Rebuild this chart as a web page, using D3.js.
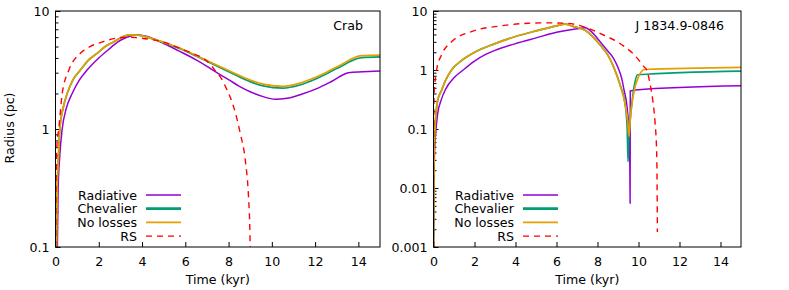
<!DOCTYPE html>
<html>
<head>
<script src="https://d3js.org/d3.v7.min.js"></script>
<style>
  body { margin: 0; background: #fff; }
  svg text { font-family: "DejaVu Sans", sans-serif; font-size: 12.6px; fill: #000; }
</style>
</head>
<body>
<svg id="chart" width="789" height="290"></svg>
<script>
// tick values
const timeTicks = [0, 2, 4, 6, 8, 10, 12, 14];
const crabTicks = [0.1, 1, 10];
const jTicks = [0.001, 0.01, 0.1, 1, 10];

const seriesNames = ["Radiative", "Chevalier", "No losses", "RS"];
const seriesColors = ["#9400d3", "#009e73", "#e69f00", "#ff0000"];

// Crab panel: [time (kyr), radius (pc)]
const crabRadiative = [[0.08, 0.08], [0.12, 0.3], [0.2, 0.6], [0.31, 1.0], [0.5, 1.5], [0.77, 2.0], [1.1, 2.6],
  [1.46, 3.16], [2.0, 4.0], [2.5, 4.8], [2.9, 5.5], [3.3, 6.0], [3.75, 6.3], [4.2, 6.1], [5.0, 5.3],
  [5.77, 4.52], [6.5, 3.85], [7.0, 3.4], [7.46, 3.0], [8.0, 2.62], [8.5, 2.3], [9.0, 2.07], [9.6, 1.88],
  [10.15, 1.79], [10.7, 1.82], [11.4, 1.98], [12.08, 2.2], [12.8, 2.55], [13.54, 3.0], [14.2, 3.05], [15, 3.1]];
const crabChevalier = [[0.04, 0.08], [0.08, 0.35], [0.11, 0.45], [0.2, 1.0], [0.35, 1.5], [0.54, 2.0],
  [0.8, 2.6], [1.15, 3.16], [1.5, 3.8], [1.92, 4.38], [2.3, 5.0], [2.7, 5.5], [3.1, 6.05], [3.4, 6.27],
  [3.8, 6.25], [4.5, 5.8], [5.3, 5.15], [5.77, 4.78], [6.5, 4.15], [7.0, 3.75], [7.62, 3.3], [8.3, 2.88],
  [9.0, 2.52], [9.6, 2.32], [10.5, 2.22], [11.3, 2.36], [12.08, 2.68], [13.0, 3.25], [14.15, 4.02], [15, 4.08]];
const crabNoLosses = [[0.04, 0.08], [0.08, 0.35], [0.11, 0.45], [0.2, 1.0], [0.35, 1.5], [0.54, 2.0],
  [0.8, 2.6], [1.15, 3.16], [1.5, 3.8], [1.92, 4.38], [2.3, 5.0], [2.7, 5.5], [3.1, 6.05], [3.4, 6.27],
  [3.8, 6.25], [4.5, 5.8], [5.3, 5.2], [5.77, 4.83], [6.5, 4.2], [7.0, 3.8], [7.62, 3.37], [8.3, 2.95],
  [9.0, 2.6], [9.6, 2.4], [10.5, 2.3], [11.3, 2.45], [12.08, 2.77], [13.0, 3.35], [14.15, 4.18], [15, 4.23]];
const crabRS = [[0.01, 0.1], [0.03, 0.4], [0.07, 0.75], [0.15, 1.0], [0.31, 2.0], [0.62, 3.16], [1.15, 4.38],
  [1.6, 5.0], [2.08, 5.4], [2.85, 5.9], [3.5, 6.0], [3.92, 5.9], [4.5, 5.7], [5.0, 5.45], [5.77, 4.8],
  [6.5, 4.25], [6.9, 3.9], [7.2, 3.45], [7.46, 3.0], [7.62, 2.77], [7.9, 2.2], [8.23, 1.55], [8.54, 0.92],
  [8.77, 0.55], [8.92, 0.27], [8.98, 0.15], [9.0, 0.1]];

// J 1834.9-0846 panel
const jRadiative = [[0.0, 0.0008], [0.02, 0.01], [0.05, 0.04], [0.1, 0.08], [0.2, 0.18], [0.36, 0.3],
  [0.6, 0.48], [1.0, 0.74], [1.4, 0.97], [2.0, 1.42], [2.5, 1.8], [3.0, 2.15], [4.0, 2.8], [5.0, 3.5],
  [6.0, 4.35], [7.0, 5.0], [7.4, 5.2], [7.75, 4.3], [8.13, 3.0], [8.5, 2.1], [8.78, 1.58], [9.0, 1.1],
  [9.18, 0.72], [9.3, 0.45], [9.43, 0.26], [9.52, 0.12], [9.56, 0.07], [9.58, 0.02], [9.59, 0.0055],
  [9.6, 0.44], [9.84, 0.46], [15, 0.54]];
const jChevalier = [[0.0, 0.0008], [0.02, 0.02], [0.07, 0.1], [0.2, 0.3], [0.39, 0.45], [0.6, 0.68],
  [0.88, 1.0], [1.37, 1.45], [2.0, 2.0], [3.0, 2.8], [4.0, 3.7], [5.0, 4.6], [6.0, 5.6], [6.42, 6.0],
  [6.8, 5.5], [7.4, 4.7], [8.13, 2.65], [8.5, 1.8], [8.78, 1.14], [9.1, 0.56], [9.35, 0.26], [9.45, 0.1],
  [9.49, 0.028], [9.52, 0.06], [9.6, 0.15], [9.67, 0.26], [9.83, 0.63], [9.95, 0.83], [15, 0.96]];
const jNoLosses = [[0.0, 0.0008], [0.02, 0.02], [0.07, 0.1], [0.2, 0.3], [0.39, 0.45], [0.6, 0.68],
  [0.88, 1.0], [1.37, 1.45], [2.0, 2.0], [3.0, 2.8], [4.0, 3.7], [5.0, 4.6], [6.0, 5.6], [6.42, 6.0],
  [6.8, 5.5], [7.4, 4.7], [8.13, 2.65], [8.5, 1.8], [8.78, 1.14], [9.1, 0.56], [9.35, 0.26], [9.47, 0.14],
  [9.54, 0.075], [9.6, 0.15], [9.75, 0.38], [10.0, 0.77], [10.3, 1.02], [15, 1.11]];
const jRS = [[0.0, 0.001], [0.01, 0.1], [0.03, 0.4], [0.06, 0.56], [0.15, 1.0], [0.39, 1.8], [0.88, 3.0],
  [1.85, 4.47], [3.3, 5.6], [4.6, 6.2], [5.5, 6.3], [6.5, 6.2], [7.4, 5.3], [8.29, 3.92], [8.9, 3.1],
  [9.43, 2.33], [9.8, 1.8], [10.08, 1.38], [10.25, 1.15], [10.4, 1.0], [10.5, 0.75], [10.6, 0.5],
  [10.7, 0.3], [10.8, 0.14], [10.89, 0.036], [10.91, 0.008], [10.92, 0.0018]];

const svg = d3.select("#chart");

function minorTicks(domain) {
  let out = [];
  for (let e = Math.log10(domain[0]); e < Math.log10(domain[1]); e++) {
    for (let m = 2; m <= 9; m++) out.push(m * Math.pow(10, e));
  }
  return out;
}

const plotWidths = [1.5, 1.7, 1.7, 1.4];
const legendWidths = [1.5, 2.8, 1.6, 1.4];

function drawPanel(opt) {
  const x = d3.scaleLinear().domain([0, 15]).range([opt.left, opt.right]);
  const y = d3.scaleLog().domain(opt.yDomain).range([247, 11]);
  const g = svg.append("g");

  g.append("clipPath").attr("id", opt.id + "-clip")
    .append("rect")
    .attr("x", opt.left).attr("y", 11)
    .attr("width", opt.right - opt.left).attr("height", 236);

  // axes, ticks pointing inward
  let ya = g.append("g").attr("transform", `translate(${opt.left},0)`)
    .call(d3.axisLeft(y).tickValues(opt.yTicks).tickSize(-5).tickPadding(6).tickFormat(d => String(d)));
  ya.select(".domain").remove();
  let ym = g.append("g").attr("transform", `translate(${opt.left},0)`)
    .call(d3.axisLeft(y).tickValues(minorTicks(opt.yDomain)).tickSize(-3).tickFormat(""));
  ym.select(".domain").remove();
  let xa = g.append("g").attr("transform", "translate(0,247)")
    .call(d3.axisBottom(x).tickValues(timeTicks).tickSize(-5).tickPadding(10));
  xa.select(".domain").remove();
  g.selectAll(".tick text").attr("font-size", 12.6).attr("font-family", "DejaVu Sans, sans-serif");

  const line = d3.line()
    .x(d => x(d[0]))
    .y(d => y(Math.max(d[1], 1e-5)))
    .curve(d3.curveMonotoneX);

  const plot = g.append("g").attr("clip-path", `url(#${opt.id}-clip)`);
  opt.series.forEach((s, i) => {
    plot.append("path")
      .datum(s)
      .attr("d", line)
      .attr("fill", "none")
      .attr("stroke", seriesColors[i])
      .attr("stroke-width", plotWidths[i])
      .attr("stroke-dasharray", i == 3 ? "6,5" : null);
  });

  g.append("rect")
    .attr("x", opt.left).attr("y", 11)
    .attr("width", opt.right - opt.left).attr("height", 236)
    .attr("fill", "none").attr("stroke", "#000").attr("stroke-width", 1);

  // legend
  seriesNames.forEach((name, i) => {
    const ly = 195 + i * 13.7;
    g.append("text")
      .attr("x", opt.legendX).attr("y", ly + 4.6)
      .attr("text-anchor", "end")
      .text(name);
    g.append("line")
      .attr("x1", opt.legendX + 9).attr("x2", opt.legendX + 44)
      .attr("y1", ly).attr("y2", ly)
      .attr("stroke", seriesColors[i])
      .attr("stroke-width", legendWidths[i])
      .attr("stroke-dasharray", i == 3 ? "6,5" : null);
  });

  g.append("text")
    .attr("x", opt.right - 17).attr("y", 30)
    .attr("text-anchor", "end")
    .text(opt.label);

  g.append("text")
    .attr("x", (opt.left + opt.right) / 2).attr("y", 284)
    .attr("text-anchor", "middle")
    .text("Time (kyr)");
}

drawPanel({
  id: "crab", left: 55.5, right: 380, yDomain: [0.1, 10], yTicks: crabTicks,
  series: [crabRadiative, crabChevalier, crabNoLosses, crabRS],
  legendX: 137, label: "Crab"
});
drawPanel({
  id: "j1834", left: 433.5, right: 741, yDomain: [0.001, 10], yTicks: jTicks,
  series: [jRadiative, jChevalier, jNoLosses, jRS],
  legendX: 514, label: "J 1834.9-0846"
});

svg.append("text")
  .attr("transform", "translate(14,128) rotate(-90)")
  .attr("text-anchor", "middle")
  .text("Radius (pc)");
</script>
</body>
</html>
